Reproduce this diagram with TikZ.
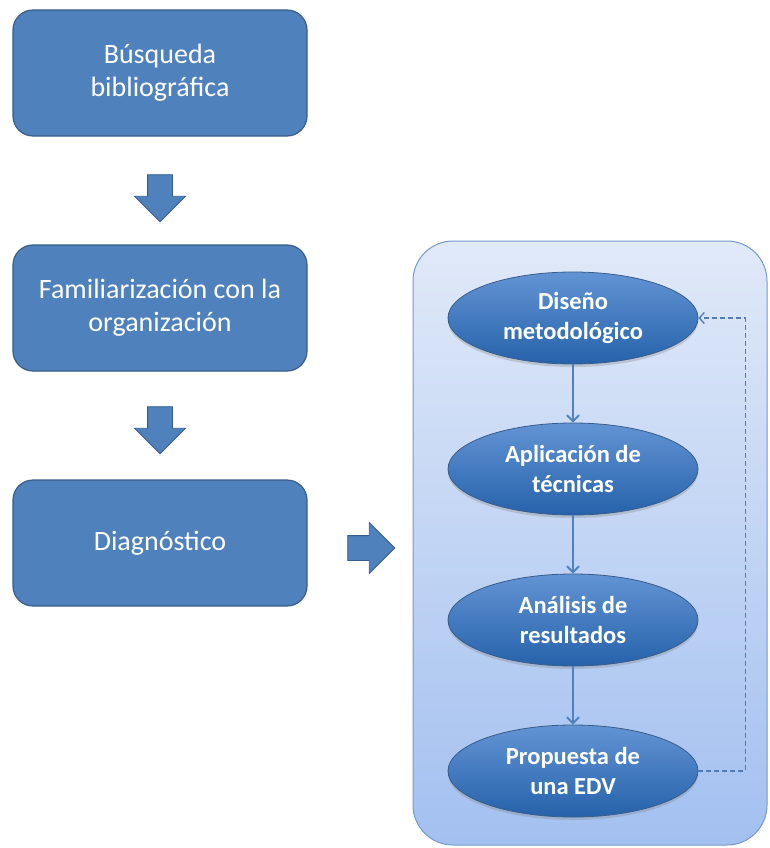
\documentclass[tikz,border=0pt]{standalone}
\usepackage{fontspec}
\setmainfont{Carlito}
\usepackage{tikz}
\usetikzlibrary{shapes.geometric,shapes.arrows,shadows,arrows.meta}

\definecolor{boxblue}{RGB}{79,129,189}
\definecolor{boxline}{RGB}{56,93,138}
\definecolor{elltop}{RGB}{98,148,212}
\definecolor{ellbot}{RGB}{38,98,170}
\definecolor{paneltop}{RGB}{224,233,248}
\definecolor{panelbot}{RGB}{163,192,240}
\definecolor{panelline}{RGB}{118,152,204}
\definecolor{fbline}{RGB}{84,122,180}

\begin{document}
\begin{tikzpicture}[
  x=1pt, y=-1pt,
  node distance = 235pt,
  sbox/.style={rectangle, rounded corners=20pt, fill=boxblue, draw=boxline, line width=1.2pt,
    minimum width=294pt, minimum height=126pt, text=white, align=center,
    font=\fontsize{28}{33}\selectfont},
  ebox/.style={ellipse, shade, top color=elltop, bottom color=ellbot, draw=boxline, line width=0.8pt,
    minimum width=250pt, minimum height=92pt, text=white, align=center, inner sep=0pt,
    font=\bfseries\fontsize{24.5}{30.5}\selectfont,
    drop shadow={opacity=0.3, shadow xshift=0pt, shadow yshift=-3pt}},
  barrow/.style={single arrow, fill=boxblue, draw=boxline, line width=0.8pt,
    inner xsep=0pt, inner ysep=12pt, minimum height=47pt, minimum width=50pt,
    single arrow head extend=13pt, single arrow tip angle=90},
  panel/.style={rectangle, rounded corners=40pt, shade, top color=paneltop, bottom color=panelbot,
    draw=panelline, line width=1pt, minimum width=354pt, minimum height=604pt},
  arw/.style={-{Straight Barb[length=6pt, width=12pt]}, line width=2pt, draw=boxblue},
  fb/.style={-{Straight Barb[length=5pt, width=11pt]}, line width=1.3pt,
    dash pattern=on 5pt off 3pt, draw=fbline}
  ]

\useasboundingbox (0,0) rectangle (769,848);

% left column
\node [sbox] (b1) at (160,73) {Búsqueda\\bibliográfica};
\node [sbox, below of=b1] (b2) {Familiarización con la\\organización};
\node [sbox, below of=b2] (b3) {Diagnóstico};

\node [barrow, rotate=-90] (a1) at (160,192) {};
\node [barrow, rotate=-90] (a2) at (160,424) {};
\node [barrow] (a3) at (365,548) {};

% right panel
\node [panel] (grp) at (590,543) {};

\node [ebox] (e1) at (573,318) {Diseño\\metodológico};
\node [ebox, node distance=151pt, below of=e1] (e2) {Aplicación de\\técnicas};
\node [ebox, node distance=151pt, below of=e2] (e3) {Análisis de\\resultados};
\node [ebox, node distance=151pt, below of=e3] (e4) {Propuesta de\\una EDV};

\draw [arw] (e1) -- (e2);
\draw [arw] (e2) -- (e3);
\draw [arw] (e3) -- (e4);

\draw [fb] (e4.east) -- ++(47,0) |- (e1.east);

\end{tikzpicture}
\end{document}
